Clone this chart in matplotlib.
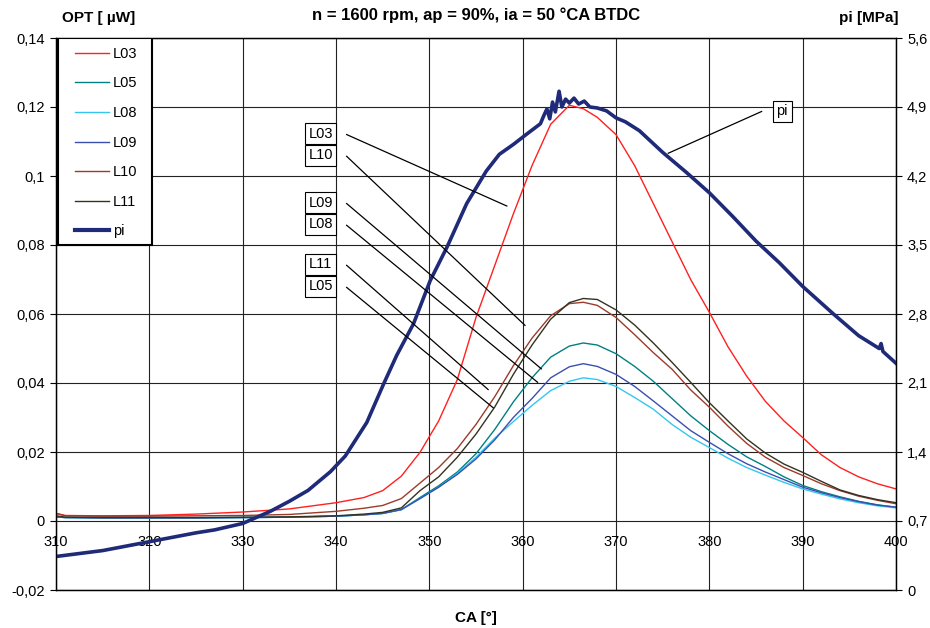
import matplotlib
matplotlib.use('Agg')
import matplotlib.pyplot as plt
import matplotlib.patches as patches
import numpy as np

plt.rcParams['font.family'] = ['Liberation Sans', 'DejaVu Sans']
plt.rcParams['font.size'] = 10

# crank angle samples for the optical signals
ca = [310, 311, 315, 320, 325, 330, 335, 340, 343, 345, 347, 349, 351, 353, 355, 357,
      359, 361, 363, 365, 366.5, 368, 370, 372, 374, 376, 378, 380, 382, 384, 386, 388,
      390, 392, 394, 396, 398, 400]

L03 = [0.0022, 0.0016, 0.0015, 0.0016, 0.0020, 0.0026, 0.0035, 0.0053, 0.0068, 0.0088,
       0.0130, 0.0199, 0.0290, 0.0410, 0.0590, 0.0740, 0.0890, 0.1030, 0.1150, 0.1205,
       0.1195, 0.1170, 0.1120, 0.1030, 0.0920, 0.0810, 0.0700, 0.0605, 0.0505, 0.0420,
       0.0347, 0.0290, 0.0242, 0.0192, 0.0155, 0.0128, 0.0108, 0.0093]
L05 = [0.0012, 0.0010, 0.0009, 0.0009, 0.0009, 0.0010, 0.0011, 0.0014, 0.0018, 0.0022,
       0.0033, 0.0068, 0.0102, 0.0142, 0.0195, 0.0265, 0.0345, 0.0415, 0.0475, 0.0507,
       0.0516, 0.0510, 0.0485, 0.0448, 0.0405, 0.0355, 0.0305, 0.0262, 0.0222, 0.0186,
       0.0158, 0.0128, 0.0103, 0.0085, 0.0070, 0.0057, 0.0047, 0.0040]
L08 = [0.0012, 0.0010, 0.0009, 0.0009, 0.0009, 0.0010, 0.0011, 0.0014, 0.0018, 0.0022,
       0.0033, 0.0065, 0.0098, 0.0138, 0.0185, 0.0240, 0.0288, 0.0335, 0.0378, 0.0405,
       0.0415, 0.0410, 0.0390, 0.0358, 0.0324, 0.0280, 0.0243, 0.0213, 0.0182, 0.0155,
       0.0133, 0.0112, 0.0093, 0.0078, 0.0064, 0.0053, 0.0044, 0.0038]
L09 = [0.0012, 0.0010, 0.0009, 0.0009, 0.0009, 0.0010, 0.0011, 0.0014, 0.0018, 0.0022,
       0.0033, 0.0065, 0.0098, 0.0135, 0.0180, 0.0235, 0.0300, 0.0355, 0.0415, 0.0447,
       0.0456, 0.0448, 0.0425, 0.0390, 0.0348, 0.0305, 0.0262, 0.0228, 0.0195, 0.0166,
       0.0142, 0.0120, 0.0098, 0.0082, 0.0068, 0.0056, 0.0046, 0.0040]
L10 = [0.0022, 0.0015, 0.0014, 0.0014, 0.0015, 0.0016, 0.0019, 0.0028, 0.0037, 0.0045,
       0.0065, 0.0110, 0.0155, 0.0210, 0.0280, 0.0360, 0.0450, 0.0530, 0.0595, 0.0630,
       0.0634, 0.0625, 0.0590, 0.0540, 0.0488, 0.0440, 0.0380, 0.0330, 0.0275, 0.0225,
       0.0185, 0.0155, 0.0132, 0.0108, 0.0088, 0.0072, 0.0060, 0.0050]
L11 = [0.0015, 0.0011, 0.0010, 0.0010, 0.0010, 0.0011, 0.0012, 0.0015, 0.0020, 0.0025,
       0.0038, 0.0088, 0.0128, 0.0185, 0.0252, 0.0330, 0.0425, 0.0510, 0.0585, 0.0633,
       0.0645, 0.0642, 0.0612, 0.0568, 0.0516, 0.0460, 0.0402, 0.0343, 0.0290, 0.0238,
       0.0197, 0.0165, 0.0141, 0.0115, 0.0090, 0.0074, 0.0062, 0.0053]

# cylinder pressure
ca_pi = [310, 315, 320, 325, 327, 330, 333, 335, 337, 339.4, 341, 343.3, 345.1, 346.5,
         348.3, 350.1, 351.9, 354, 356.1, 357.5, 359, 360.5, 361.9, 362.3, 362.6, 362.9,
         363.2, 363.5, 363.9, 364.2, 364.6, 365, 365.5, 366, 366.6, 367.2, 368, 369, 370,
         371, 372.5, 375, 377.5, 380, 382.5, 385, 387.5, 390, 393.3, 396, 398.2, 398.4,
         398.6, 400]
pi = [0.34, 0.40, 0.49, 0.58, 0.61, 0.675, 0.80, 0.90, 1.01, 1.20, 1.36, 1.70, 2.09, 2.38,
      2.70, 3.14, 3.48, 3.92, 4.25, 4.42, 4.52, 4.63, 4.73, 4.82, 4.88, 4.78, 4.95, 4.85,
      5.06, 4.90, 4.98, 4.94, 4.99, 4.93, 4.96, 4.90, 4.89, 4.86, 4.79, 4.75, 4.66, 4.44,
      4.24, 4.03, 3.79, 3.54, 3.32, 3.08, 2.80, 2.58, 2.45, 2.50, 2.42, 2.30]

series = [('L03', L03, '#ff2020'), ('L05', L05, '#008080'), ('L08', L08, '#33c6f0'),
          ('L09', L09, '#3a4fb0'), ('L10', L10, '#9c3b2b'), ('L11', L11, '#333322')]

x_ticks = [310, 320, 330, 340, 350, 360, 370, 380, 390, 400]
y_ticks = [-0.02, 0, 0.02, 0.04, 0.06, 0.08, 0.1, 0.12, 0.14]
y2_ticks = [0, 0.7, 1.4, 2.1, 2.8, 3.5, 4.2, 4.9, 5.6]

# callout boxes: label, box centre, end of leader line
callouts = [('L03', (338.34, 0.1123), (358.3, 0.0913)),
            ('L10', (338.34, 0.1060), (360.25, 0.0567)),
            ('L09', (338.34, 0.0923), (362.0, 0.0441)),
            ('L08', (338.34, 0.0860), (361.6, 0.0402)),
            ('L11', (338.34, 0.0744), (356.3, 0.0381)),
            ('L05', (338.34, 0.0680), (356.85, 0.0328)),
            ('pi', (387.8, 0.1187), (375.6, 0.1066))]


def comma(v):
    return ('%g' % round(v, 3)).replace('.', ',')


fig = plt.figure(figsize=(9.3, 6.28), dpi=100)
ax = fig.add_axes([56 / 930, 38 / 628, 840 / 930, 552 / 628])
ax2 = ax.twinx()

lines = []
for name, vals, col in series:
    ln, = ax.plot(ca, vals, color=col, lw=1.0, label=name)
    lines.append(ln)
pl, = ax2.plot(ca_pi, pi, color='#1f2a78', lw=2.6, label='pi')
lines.append(pl)

ax.set_xlim(310, 400)
ax.set_ylim(-0.02, 0.14)
ax2.set_ylim(0, 5.6)
ax.set_xticks(x_ticks)
ax.set_yticks(y_ticks)
ax2.set_yticks(y2_ticks)
ax.set_yticklabels([comma(v) for v in y_ticks])
ax2.set_yticklabels([comma(v) for v in y2_ticks])
ax.tick_params(axis='x', length=0, labelbottom=False)
ax.tick_params(axis='y', length=4, width=0.8, pad=4, labelsize=10.5)
ax2.tick_params(axis='y', length=4, width=0.8, pad=4, labelsize=10.5)
ax.grid(True, color='#222222', lw=0.8)
ax.set_axisbelow(True)
for sp in list(ax.spines.values()) + list(ax2.spines.values()):
    sp.set_color('black')
    sp.set_linewidth(0.9)

# x tick labels sit on the zero line
for xv in x_ticks:
    ax.annotate(str(xv), (xv, 0), xytext=(0, -14.8), textcoords='offset points',
                ha='center', va='center', fontsize=10.5)

for name, (bx, by), (ex, ey) in callouts:
    ax2.plot([bx + 2.8 if name != 'pi' else bx - 2.2, ex],
             [by * 35 + 0.7 + (0.0 if name == 'pi' else -0.01), ey * 35 + 0.7],
             color='black', lw=0.9, zorder=4)
    ax2.text(bx, by * 35 + 0.7, name, ha='center', va='center', fontsize=10.5, zorder=5,
             bbox=dict(boxstyle='square,pad=0.25', fc='white', ec='black', lw=0.8))

# legend frame and entries
ax2.add_patch(patches.Rectangle((0.0024, 0.625), 0.1117, 0.375, transform=ax2.transAxes,
                                fc='white', ec='black', lw=1.5, zorder=6))
leg = ax2.legend(handles=lines, loc='upper left', bbox_to_anchor=(0.0226, 0.984),
                 frameon=False, borderpad=0, borderaxespad=0, handlelength=2.3,
                 handletextpad=0.3, labelspacing=1.07, fontsize=10.5)
leg.set_zorder(7)
for h in leg.legend_handles:
    if h.get_label() == 'pi':
        h.set_linewidth(3)

fig.text(476 / 930, 1 - 15 / 628, 'n = 1600 rpm, ap = 90%, ia = 50 \u00b0CA BTDC',
         ha='center', va='center', fontweight='bold', fontsize=12)
fig.text(62 / 930, 1 - 18 / 628, 'OPT [ \u00b5W]', ha='left', va='center',
         fontweight='bold', fontsize=11)
fig.text(898 / 930, 1 - 18 / 628, 'pi [MPa]', ha='right', va='center',
         fontweight='bold', fontsize=11)
fig.text(476 / 930, 1 - 618 / 628, 'CA [\u00b0]', ha='center', va='center',
         fontweight='bold', fontsize=11)

fig.savefig('out.png', dpi=100)
